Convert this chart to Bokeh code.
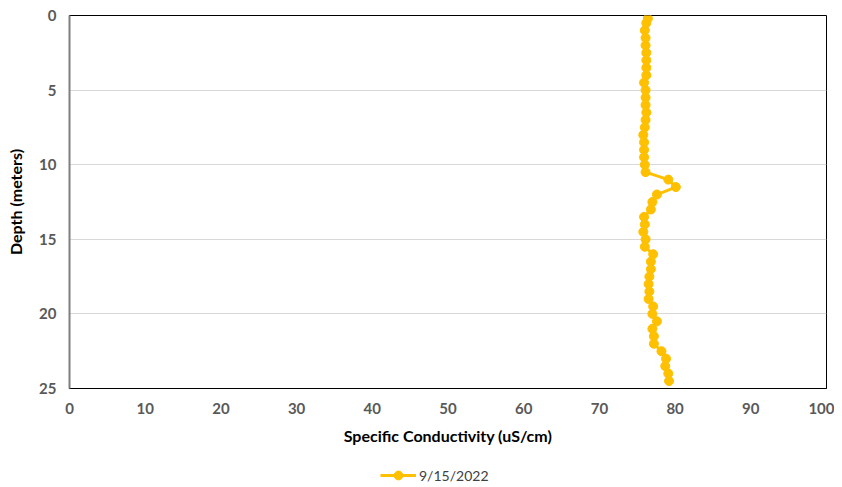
from bokeh.plotting import figure
from bokeh.models import Range1d, Legend, LegendItem, FixedTicker
from bokeh.layouts import column
from bokeh.embed import file_html
from bokeh.resources import INLINE

depth = [0.2, 0.5, 1.0, 1.5, 2.0, 2.5, 3.0, 3.5, 4.0, 4.5, 5.0, 5.5, 6.0, 6.5, 7.0,
         7.5, 8.0, 8.5, 9.0, 9.5, 10.0, 10.5, 11.0, 11.5, 12.0, 12.5, 13.0, 13.5,
         14.0, 14.5, 15.0, 15.5, 16.0, 16.5, 17.0, 17.5, 18.0, 18.5, 19.0, 19.5,
         20.0, 20.5, 21.0, 21.5, 22.0, 22.5, 23.0, 23.5, 24.0, 24.5]
conductivity = [76.4, 76.2, 76.0, 76.1, 76.1, 76.2, 76.2, 76.2, 76.2, 75.9, 76.1, 76.1,
                76.1, 76.2, 76.1, 76.0, 75.8, 75.9, 75.9, 75.9, 76.0, 76.1, 79.1, 80.1,
                77.6, 77.0, 76.8, 75.9, 76.0, 75.8, 76.1, 76.0, 77.1, 76.8, 76.8, 76.6,
                76.5, 76.6, 76.5, 77.1, 77.0, 77.6, 77.0, 77.2, 77.2, 78.2, 78.8, 78.7,
                79.1, 79.2]
series_name = "9/15/2022"
x_ticks = [0, 10, 20, 30, 40, 50, 60, 70, 80, 90, 100]
y_ticks = [0, 5, 10, 15, 20, 25]

FONT = "Lato"
COLOR = "#FFC000"
W = 834

p = figure(width=W, height=448, output_backend="svg", toolbar_location=None,
           x_range=Range1d(0, 100), y_range=Range1d(25, 0),
           min_border_left=69, min_border_right=W - 826, min_border_top=15,
           min_border_bottom=60)

p.outline_line_color = "#000000"
p.outline_line_width = 1

p.line(conductivity, depth, line_color=COLOR, line_width=3)
p.scatter(conductivity, depth, size=9, fill_color=COLOR, line_color=COLOR)

p.xgrid.visible = False
p.ygrid.grid_line_color = "#d9d9d9"
p.ygrid.grid_line_width = 1

p.xaxis.ticker = FixedTicker(ticks=x_ticks)
p.yaxis.ticker = FixedTicker(ticks=y_ticks)

for ax in (p.xaxis[0], p.yaxis[0]):
    ax.major_tick_line_color = None
    ax.minor_tick_line_color = None
    ax.major_tick_out = 0
    ax.major_tick_in = 0
    ax.major_label_text_font = FONT
    ax.major_label_text_font_style = "bold"
    ax.major_label_text_font_size = "15px"
    ax.major_label_text_color = "#595959"
    ax.axis_label_text_font = FONT
    ax.axis_label_text_font_style = "bold"
    ax.axis_label_text_font_size = "16px"
    ax.axis_label_text_color = "#000000"

p.xaxis.axis_label = "Specific Conductivity (uS/cm)"
p.xaxis.axis_line_color = "#000000"
p.xaxis.major_label_standoff = 14
p.xaxis.axis_label_standoff = 9

p.yaxis.axis_label = "Depth (meters)"
p.yaxis.axis_line_color = "#7f7f7f"
p.yaxis.axis_line_width = 2
p.yaxis.major_label_standoff = 13
p.yaxis.axis_label_standoff = 11

# legend strip below the chart (series drawn out of view; only its legend shows)
lf = figure(width=W, height=39, output_backend="svg", toolbar_location=None,
            x_range=Range1d(1000, 1001), y_range=Range1d(1000, 1001),
            min_border=0, outline_line_color=None)
lf.axis.visible = False
lf.grid.visible = False
lr_line = lf.line(conductivity, depth, line_color=COLOR, line_width=3)
lr_pts = lf.scatter(conductivity, depth, size=9, fill_color=COLOR, line_color=COLOR)
legend = Legend(items=[LegendItem(label=series_name, renderers=[lr_line, lr_pts])],
                orientation="horizontal", location=(311, 1),
                label_text_font=FONT, label_text_font_size="14px",
                label_text_color="#404040", border_line_color=None,
                background_fill_alpha=0, glyph_width=36, glyph_height=22,
                label_height=22, label_standoff=3, padding=0, margin=0)
lf.add_layout(legend, "center")

layout = column(p, lf, spacing=0)
open("out.html", "w").write(file_html(layout, INLINE))
